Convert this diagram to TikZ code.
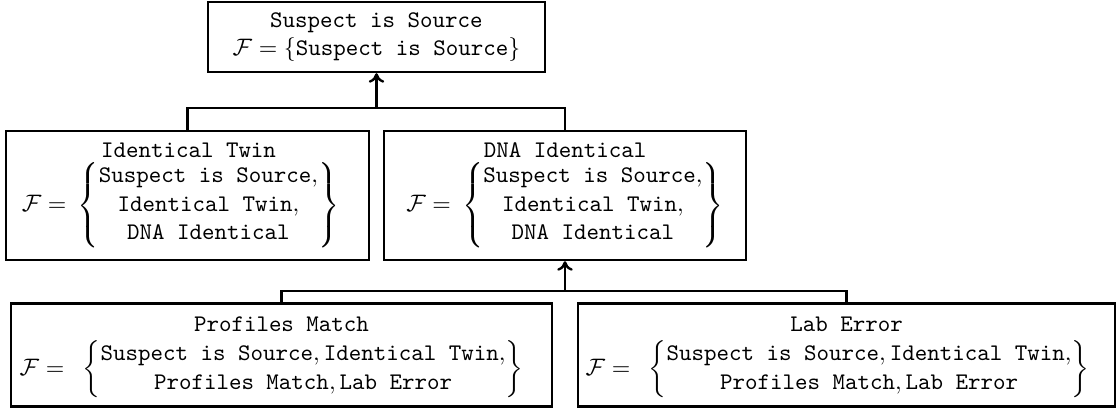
\documentclass[tikz,border=0pt]{standalone}
\usepackage{amsmath}
\usetikzlibrary{arrows.meta}
\begin{document}
\begin{tikzpicture}[x=0.42pt,y=-0.42pt,
  box/.style={draw, line width=1pt, inner sep=0pt},
  ttl/.style={anchor=base, inner sep=0pt, font=\ttfamily},
  frm/.style={inner sep=0pt},
  link/.style={line width=1pt},
  tip/.style={-{To[length=4pt,width=6.5pt]}}]
\useasboundingbox (0,0) rectangle (1116,408);
% boxes
\node[box, minimum width=141.54pt, minimum height=29.4pt, align=center] (top) at (376.5,37)
  {\texttt{Suspect is Source}\\ $\mathcal{F}=\{\texttt{Suspect is Source}\}$};
\node[box, minimum width=152.46pt, minimum height=54.18pt] (it) at (187.5,195.5) {};
\node[box, minimum width=152.04pt, minimum height=54.18pt] (dna) at (565,195.5) {};
\node[box, minimum width=227.22pt, minimum height=43.26pt] (pm) at (281.5,355) {};
\node[box, minimum width=225.54pt, minimum height=43.26pt] (le) at (846.5,355) {};
% texts
\node[ttl] (itt) at (188.5,157.5) {Identical Twin};
\node[frm] (itf) at (180.5,205.5) {$\mathcal{F}=\hspace{2pt}\left\{\begin{matrix}\texttt{Suspect is Source},\\ \texttt{Identical Twin},\\ \texttt{DNA Identical}\end{matrix}\right\}$};
\node[ttl] (dnat) at (565,157.5) {DNA Identical};
\node[frm] (dnaf) at (565,205.5) {$\mathcal{F}=\hspace{2pt}\left\{\begin{matrix}\texttt{Suspect is Source},\\ \texttt{Identical Twin},\\ \texttt{DNA Identical}\end{matrix}\right\}$};
\node[ttl] (pmt) at (281.5,331.5) {Profiles Match};
\node[frm] (pmf) at (271.5,369.5) {$\mathcal{F}=\hspace{5pt}\left\{\begin{matrix}\texttt{Suspect is Source},\texttt{Identical Twin},\\ \texttt{Profiles Match},\texttt{Lab Error}\end{matrix}\right\}$};
\node[ttl] (let) at (846.5,331.5) {Lab Error};
\node[frm] (lef) at (837.5,369.5) {$\mathcal{F}=\hspace{5pt}\left\{\begin{matrix}\texttt{Suspect is Source},\texttt{Identical Twin},\\ \texttt{Profiles Match},\texttt{Lab Error}\end{matrix}\right\}$};
% connectors
\coordinate (j1) at (376.5,108);
\coordinate (j2) at (565,291);
\draw[link] (it.north) |- (j1) -| (dna.north);
\draw[link,tip] (j1) -- (top.south);
\draw[link] (pm.north) |- (j2) -| (le.north);
\draw[link,tip] (j2) -- (dna.south);
\end{tikzpicture}
\end{document}
